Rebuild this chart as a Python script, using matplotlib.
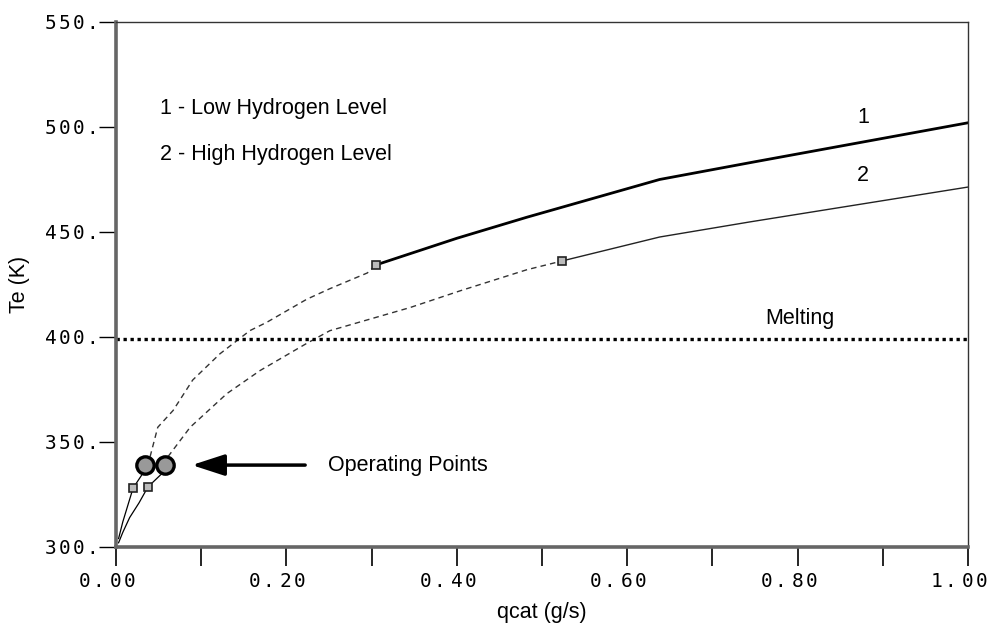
import matplotlib
matplotlib.use("Agg")
from matplotlib import pyplot as plt
from matplotlib.ticker import MultipleLocator, FuncFormatter
from matplotlib.transforms import ScaledTranslation

# curve 1 - low hydrogen level
low1_q = [0.003, 0.008, 0.014, 0.020, 0.033]
low1_T = [304, 312, 320, 328, 336]
dash1_q = [0.040, 0.049, 0.067, 0.090, 0.122, 0.157, 0.177, 0.224, 0.251, 0.295, 0.305]
dash1_T = [343, 357, 365, 379.5, 392, 403, 407, 418, 423, 430.5, 434.3]
high1_q = [0.305, 0.400, 0.482, 0.638, 0.748, 1.00]
high1_T = [434.3, 447, 457, 475, 483.3, 502]

# curve 2 - high hydrogen level
low2_q = [0.003, 0.008, 0.016, 0.027, 0.0375, 0.054]
low2_T = [302, 307, 314, 321, 328.6, 335]
dash2_q = [0.061, 0.087, 0.130, 0.169, 0.224, 0.251, 0.345, 0.404, 0.482, 0.5235]
dash2_T = [343, 357, 373, 384, 397, 403, 414, 422, 432, 436.2]
high2_q = [0.5235, 0.638, 0.744, 1.00]
high2_T = [436.2, 447.6, 454.8, 471.4]

# boxed points on each curve
box_q = [0.020, 0.305, 0.0375, 0.5235]
box_T = [328, 434.3, 328.6, 436.2]

# operating points
op_q = [0.034, 0.058]
op_T = [339, 339]

T_melt = 399

sans = "Liberation Sans"
fs = 15.5


def spaced(s):
    # monospaced digits with a little extra letter spacing
    return r"$\mathtt{" + r"\hspace{0.12}".join(s) + "}$"


fig = plt.figure(figsize=(9.89, 6.28), dpi=100)
ax = fig.add_axes([0.1173, 0.129, 0.8615, 0.836])

ax.plot(low1_q, low1_T, color="black", lw=0.9)
ax.plot(dash1_q, dash1_T, color="#333333", lw=1.0, dashes=(4, 3))
ax.plot(high1_q, high1_T, color="black", lw=2.0)

ax.plot(low2_q, low2_T, color="black", lw=0.9)
ax.plot(dash2_q, dash2_T, color="#333333", lw=1.0, dashes=(4, 3))
ax.plot(high2_q, high2_T, color="#222222", lw=1.0)

ax.plot([0, 1.0], [T_melt, T_melt], color="black", lw=2.4, dashes=(1, 1.1),
        clip_on=False)

ax.plot(box_q, box_T, ls="none", marker="s", ms=6, mfc="#bbbbbb", mec="#222222", mew=1.2)
ax.plot(op_q, op_T, ls="none", marker="o", ms=12.5, mfc="#999999", mec="black", mew=2.4)

ax.annotate("", xy=(0.089, 339), xytext=(0.222, 339),
            arrowprops=dict(arrowstyle="-|>,head_length=2.0,head_width=0.65",
                            color="black", lw=2.5, shrinkA=0, shrinkB=0))
ax.text(0.249, 339, "Operating Points", fontsize=fs, family=sans, va="center")
ax.text(0.052, 508.6, "1 - Low Hydrogen Level", fontsize=fs, family=sans, va="center")
ax.text(0.052, 486.7, "2 - High Hydrogen Level", fontsize=fs, family=sans, va="center")
ax.text(0.877, 504.3, "1", fontsize=fs, family=sans, ha="center", va="center")
ax.text(0.876, 476.7, "2", fontsize=fs, family=sans, ha="center", va="center")
ax.text(0.803, 409, "Melting", fontsize=fs, family=sans, ha="center", va="center")

ax.set_xlim(0, 1.0)
ax.set_ylim(300, 550)
ax.xaxis.set_major_locator(MultipleLocator(0.1))
ax.yaxis.set_major_locator(MultipleLocator(50))
ax.xaxis.set_major_formatter(FuncFormatter(
    lambda v, p: spaced("%.2f" % v) if round(v * 10) % 2 == 0 else ""))
ax.yaxis.set_major_formatter(FuncFormatter(lambda v, p: spaced("%d." % v)))
ax.tick_params(axis="x", length=14, width=1.2, pad=4, labelsize=14)
ax.tick_params(axis="y", length=12, width=1.0, pad=3, labelsize=14)

# x labels sit a little left of their ticks
shift = ScaledTranslation(-9 / 100, 0, fig.dpi_scale_trans)
for lab in ax.get_xticklabels():
    lab.set_transform(lab.get_transform() + shift)

for side in ["left", "bottom"]:
    ax.spines[side].set_linewidth(2.6)
    ax.spines[side].set_color("#666666")
for side in ["top", "right"]:
    ax.spines[side].set_linewidth(1.0)
    ax.spines[side].set_color("#333333")

ax.set_xlabel("qcat (g/s)", fontsize=fs, family=sans, labelpad=8)
ax.set_ylabel("Te (K)", fontsize=fs, family=sans, labelpad=10)

fig.savefig("out.png", dpi=100)
